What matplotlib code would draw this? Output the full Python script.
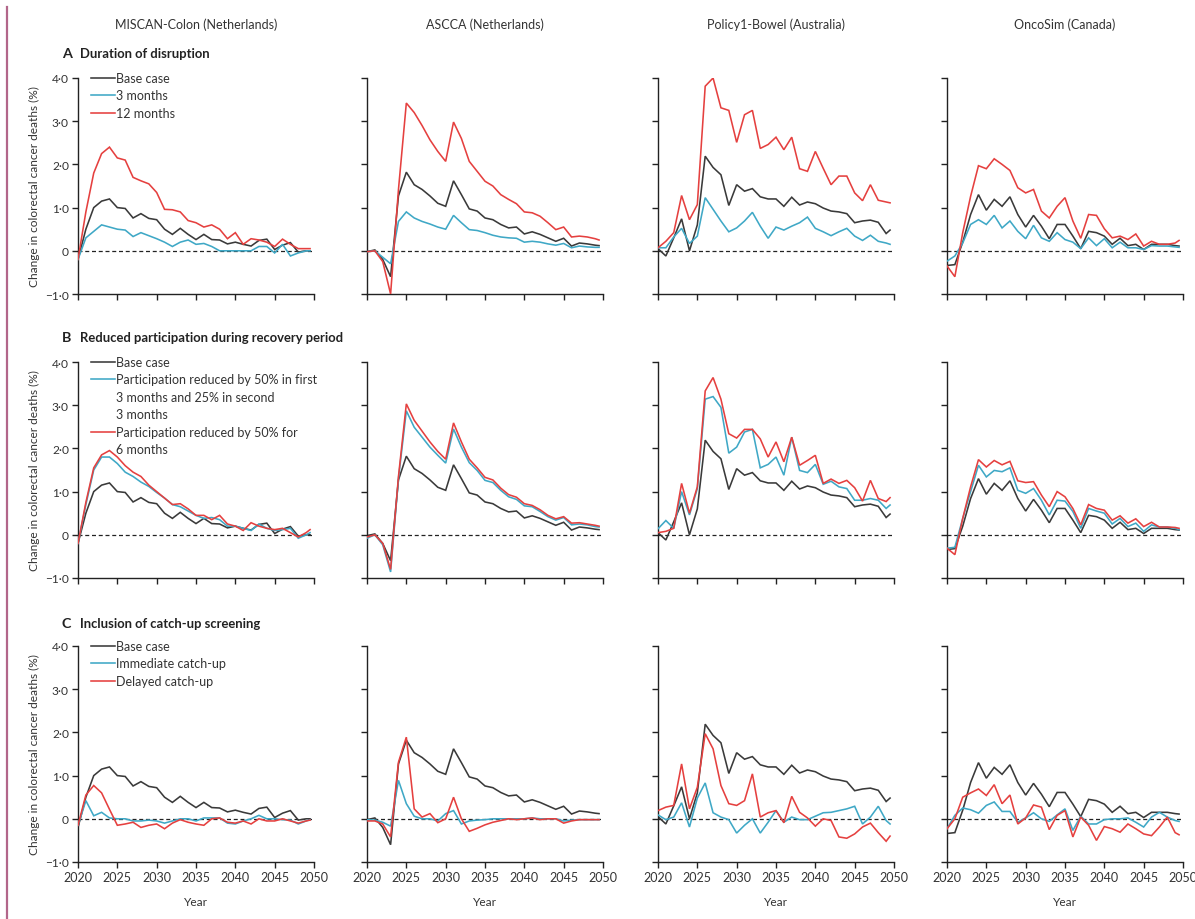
import matplotlib
matplotlib.use("Agg")
import matplotlib.pyplot as plt
from matplotlib.lines import Line2D

# ---------------- data ----------------
years = list(range(2020, 2050)) + [2049.5]

models = ["MISCAN-Colon (Netherlands)", "ASCCA (Netherlands)",
          "Policy1-Bowel (Australia)", "OncoSim (Canada)"]
panel_letters = ["A", "B", "C"]
panel_titles = ["Duration of disruption",
                "Reduced participation during recovery period",
                "Inclusion of catch-up screening"]
legend_labels = [
    ["Base case", "3 months", "12 months"],
    ["Base case",
     "Participation reduced by 50% in first\n3 months and 25% in second\n3 months",
     "Participation reduced by 50% for\n6 months"],
    ["Base case", "Immediate catch-up", "Delayed catch-up"],
]
ytick_values = [-1, 0, 1, 2, 3, 4]
ytick_labels = ["\u22121\u00b70", "0", "1\u00b70", "2\u00b70", "3\u00b70", "4\u00b70"]
xtick_values = [2020, 2025, 2030, 2035, 2040, 2045, 2050]
xtick_labels = ["2020", "2025", "2030", "2035", "2040", "2045", "2050"]
ylabel = "Change in colorectal cancer deaths (%)"
xlabel = "Year"

# MISCAN-Colon
miscan_base = [-0.2, 0.5, 1.0, 1.15, 1.2, 1.0, 0.98, 0.76, 0.86, 0.75, 0.72, 0.5, 0.38, 0.52, 0.38,
               0.26, 0.38, 0.26, 0.25, 0.16, 0.2, 0.15, 0.11, 0.24, 0.27, 0.03, 0.13, 0.19, -0.03, 0.0, 0.0]
miscan_3m = [-0.2, 0.3, 0.45, 0.6, 0.55, 0.5, 0.48, 0.33, 0.42, 0.35, 0.28, 0.2, 0.1, 0.2, 0.25,
             0.15, 0.17, 0.1, 0.0, 0.0, 0.0, 0.0, 0.0, 0.1, 0.1, -0.05, 0.15, -0.12, -0.05, 0.0, 0.0]
miscan_12m = [-0.2, 0.9, 1.8, 2.25, 2.4, 2.15, 2.1, 1.7, 1.62, 1.55, 1.35, 0.96, 0.95, 0.9, 0.7,
              0.65, 0.55, 0.6, 0.5, 0.28, 0.42, 0.15, 0.28, 0.25, 0.2, 0.1, 0.27, 0.15, 0.05, 0.05, 0.05]
miscan_p5025 = [-0.2, 0.7, 1.5, 1.8, 1.8, 1.65, 1.45, 1.35, 1.22, 1.12, 0.98, 0.85, 0.7, 0.65, 0.55,
                0.45, 0.38, 0.4, 0.35, 0.2, 0.2, 0.15, 0.1, 0.25, 0.15, 0.1, 0.12, 0.15, -0.08, 0.0, 0.05]
miscan_p50 = [-0.2, 0.75, 1.55, 1.85, 1.95, 1.8, 1.6, 1.45, 1.35, 1.15, 1.0, 0.85, 0.7, 0.72, 0.6,
              0.45, 0.45, 0.35, 0.45, 0.25, 0.2, 0.1, 0.28, 0.2, 0.15, 0.12, 0.15, 0.05, -0.05, 0.05, 0.12]
miscan_imm = [-0.15, 0.42, 0.07, 0.15, 0.02, 0.0, 0.0, -0.05, -0.05, -0.03, -0.05, -0.1, -0.05, 0.0, 0.0,
              -0.05, 0.02, 0.02, 0.02, -0.1, -0.12, -0.05, 0.0, 0.08, 0.0, 0.0, -0.02, -0.03, -0.12, -0.05, -0.02]
miscan_del = [-0.15, 0.55, 0.77, 0.6, 0.22, -0.15, -0.12, -0.08, -0.2, -0.15, -0.12, -0.23, -0.1, -0.02, -0.08,
              -0.12, -0.15, 0.0, 0.02, -0.08, -0.1, -0.05, -0.12, 0.0, -0.05, -0.05, 0.0, -0.05, -0.1, -0.05, -0.03]

# ASCCA
ascca_base = [-0.02, 0.02, -0.2, -0.6, 1.27, 1.82, 1.53, 1.42, 1.27, 1.1, 1.03, 1.62, 1.3, 0.97, 0.92,
              0.76, 0.72, 0.61, 0.53, 0.55, 0.39, 0.44, 0.38, 0.3, 0.22, 0.29, 0.11, 0.18, 0.16, 0.13, 0.12]
ascca_3m = [-0.02, 0.0, -0.15, -0.3, 0.68, 0.9, 0.76, 0.68, 0.62, 0.55, 0.5, 0.82, 0.65, 0.49, 0.47,
            0.42, 0.36, 0.32, 0.3, 0.29, 0.2, 0.22, 0.2, 0.16, 0.13, 0.17, 0.07, 0.11, 0.09, 0.08, 0.08]
ascca_12m = [-0.02, 0.0, -0.25, -1.0, 1.42, 3.42, 3.2, 2.9, 2.57, 2.3, 2.07, 2.98, 2.6, 2.07, 1.84,
             1.61, 1.5, 1.3, 1.19, 1.09, 0.9, 0.88, 0.8, 0.65, 0.49, 0.55, 0.32, 0.34, 0.32, 0.28, 0.25]
ascca_p5025 = [-0.08, 0.0, -0.23, -0.86, 1.3, 2.87, 2.49, 2.26, 2.03, 1.84, 1.66, 2.45, 2.03, 1.67, 1.49,
               1.26, 1.21, 1.03, 0.88, 0.82, 0.67, 0.65, 0.54, 0.42, 0.34, 0.4, 0.23, 0.25, 0.23, 0.19, 0.18]
ascca_p50 = [-0.05, 0.0, -0.2, -0.8, 1.35, 3.03, 2.65, 2.4, 2.15, 1.93, 1.75, 2.59, 2.15, 1.75, 1.55,
             1.33, 1.27, 1.08, 0.93, 0.87, 0.72, 0.68, 0.58, 0.45, 0.37, 0.42, 0.27, 0.28, 0.25, 0.22, 0.2]
ascca_imm = [-0.02, -0.03, -0.08, -0.17, 0.89, 0.35, 0.06, 0.0, 0.0, -0.05, 0.12, 0.19, -0.12, -0.05, -0.03,
             -0.02, 0.0, 0.0, 0.0, 0.0, 0.0, 0.02, 0.0, 0.0, 0.0, -0.05, -0.03, -0.02, -0.02, -0.02, -0.02]
ascca_del = [-0.05, -0.05, -0.12, -0.42, 1.31, 1.89, 0.23, 0.04, 0.12, -0.09, 0.0, 0.5, 0.0, -0.29, -0.22,
             -0.14, -0.08, -0.04, 0.0, -0.02, 0.0, 0.02, -0.02, 0.0, 0.0, -0.1, -0.05, -0.02, -0.02, -0.02, -0.02]

# Policy1-Bowel
policy_base = [0.05, -0.12, 0.3, 0.74, 0.0, 0.6, 2.19, 1.93, 1.76, 1.05, 1.53, 1.38, 1.44, 1.25, 1.2,
               1.2, 1.03, 1.24, 1.06, 1.13, 1.09, 0.99, 0.92, 0.9, 0.86, 0.65, 0.69, 0.71, 0.66, 0.4, 0.48]
policy_3m = [0.07, 0.07, 0.32, 0.52, 0.17, 0.34, 1.23, 0.96, 0.69, 0.44, 0.53, 0.69, 0.89, 0.57, 0.29,
             0.55, 0.48, 0.57, 0.65, 0.78, 0.52, 0.44, 0.35, 0.44, 0.52, 0.34, 0.24, 0.36, 0.22, 0.18, 0.15]
policy_12m = [0.07, 0.22, 0.42, 1.28, 0.72, 1.07, 3.81, 4.0, 3.31, 3.25, 2.51, 3.15, 3.25, 2.37, 2.46,
              2.63, 2.34, 2.63, 1.9, 1.84, 2.3, 1.91, 1.53, 1.73, 1.73, 1.34, 1.16, 1.53, 1.17, 1.13, 1.11]
policy_p5025 = [0.14, 0.33, 0.15, 1.0, 0.46, 1.07, 3.14, 3.2, 2.95, 1.89, 2.03, 2.38, 2.44, 1.55, 1.63,
                1.8, 1.38, 2.26, 1.49, 1.44, 1.63, 1.17, 1.24, 1.11, 1.07, 0.8, 0.8, 0.84, 0.8, 0.61, 0.69]
policy_p50 = [0.05, 0.08, 0.15, 1.19, 0.5, 1.11, 3.33, 3.64, 3.14, 2.34, 2.24, 2.44, 2.44, 2.22, 1.8,
              2.15, 1.69, 2.26, 1.61, 1.72, 1.84, 1.19, 1.29, 1.19, 1.26, 1.09, 0.78, 1.26, 0.84, 0.77, 0.86]
policy_imm = [0.09, -0.02, 0.04, 0.37, -0.19, 0.48, 0.83, 0.14, 0.04, -0.02, -0.33, -0.15, 0.0, -0.33, -0.08,
              0.19, -0.08, 0.04, -0.02, -0.02, 0.06, 0.14, 0.15, 0.19, 0.23, 0.29, -0.12, 0.04, 0.29, -0.04, -0.12]
policy_del = [0.19, 0.27, 0.31, 1.27, 0.23, 0.73, 1.97, 1.62, 0.77, 0.35, 0.31, 0.42, 1.04, 0.04, 0.14,
              0.19, -0.09, 0.52, 0.15, 0.02, -0.17, 0.0, -0.04, -0.42, -0.45, -0.35, -0.19, -0.1, -0.32, -0.52, -0.4]

# OncoSim
onco_base = [-0.34, -0.32, 0.2, 0.84, 1.3, 0.94, 1.19, 1.03, 1.25, 0.84, 0.55, 0.82, 0.57, 0.28, 0.61,
             0.61, 0.34, 0.05, 0.45, 0.42, 0.34, 0.15, 0.29, 0.12, 0.15, 0.03, 0.15, 0.15, 0.15, 0.12, 0.11]
onco_3m = [-0.24, -0.12, 0.18, 0.61, 0.72, 0.61, 0.82, 0.53, 0.69, 0.45, 0.28, 0.59, 0.3, 0.22, 0.42,
           0.26, 0.2, 0.05, 0.3, 0.12, 0.28, 0.07, 0.2, 0.07, 0.07, 0.03, 0.12, 0.11, 0.11, 0.09, 0.08]
onco_12m = [-0.35, -0.6, 0.42, 1.26, 1.97, 1.9, 2.13, 2.0, 1.86, 1.46, 1.34, 1.42, 0.92, 0.76, 1.03,
            1.23, 0.69, 0.29, 0.84, 0.82, 0.51, 0.3, 0.34, 0.26, 0.39, 0.11, 0.22, 0.15, 0.15, 0.18, 0.24]
onco_p5025 = [-0.31, -0.29, 0.38, 1.0, 1.61, 1.34, 1.49, 1.46, 1.55, 1.03, 0.96, 1.07, 0.8, 0.46, 0.8,
              0.78, 0.54, 0.15, 0.61, 0.55, 0.5, 0.25, 0.38, 0.19, 0.27, 0.08, 0.23, 0.18, 0.18, 0.15, 0.12]
onco_p50 = [-0.31, -0.46, 0.38, 1.11, 1.74, 1.57, 1.72, 1.62, 1.7, 1.25, 1.21, 1.23, 0.92, 0.65, 1.0,
            0.88, 0.61, 0.23, 0.7, 0.61, 0.57, 0.34, 0.44, 0.27, 0.37, 0.19, 0.29, 0.18, 0.18, 0.17, 0.15]
onco_imm = [-0.23, 0.08, 0.25, 0.21, 0.13, 0.31, 0.39, 0.17, 0.17, -0.08, 0.02, 0.14, 0.0, -0.06, 0.09,
            0.23, -0.27, 0.06, -0.12, -0.12, -0.02, 0.0, 0.0, 0.02, -0.08, -0.19, 0.04, 0.15, 0.04, -0.04, -0.06]
onco_del = [-0.23, 0.0, 0.5, 0.6, 0.69, 0.54, 0.79, 0.35, 0.55, -0.12, 0.02, 0.32, 0.27, -0.25, 0.08,
            0.19, -0.42, 0.04, -0.15, -0.5, -0.18, -0.23, -0.31, -0.12, -0.23, -0.35, -0.39, -0.19, 0.04, -0.32, -0.37]

panels = [
    [(miscan_base, miscan_3m, miscan_12m), (ascca_base, ascca_3m, ascca_12m),
     (policy_base, policy_3m, policy_12m), (onco_base, onco_3m, onco_12m)],
    [(miscan_base, miscan_p5025, miscan_p50), (ascca_base, ascca_p5025, ascca_p50),
     (policy_base, policy_p5025, policy_p50), (onco_base, onco_p5025, onco_p50)],
    [(miscan_base, miscan_imm, miscan_del), (ascca_base, ascca_imm, ascca_del),
     (policy_base, policy_imm, policy_del), (onco_base, onco_imm, onco_del)],
]

# ---------------- style ----------------
plt.rcParams['font.family'] = ['Lato', 'DejaVu Sans']
TXT = "#333333"
series_colors = ["#3a3a3a", "#3fa8c6", "#e5403f"]
FS = 8.3

W, H = 1195, 920
fig = plt.figure(figsize=(W / 100, H / 100), dpi=100)

col_left = [78, 367, 658, 947]
row_top = [79, 363, 647]
ax_w, ax_h = 236, 216

# left pink rule
fig.add_artist(Line2D([7 / W, 7 / W], [0, 1 - 8 / H], color="#b2668a", lw=1.6))

for r in range(3):
    for c in range(4):
        ax = fig.add_axes([col_left[c] / W, 1 - (row_top[r] + ax_h) / H, ax_w / W, ax_h / H])
        ax.set_xlim(2020, 2050)
        ax.set_ylim(-1, 4)
        for s in ("top", "right"):
            ax.spines[s].set_visible(False)
        for s in ("left", "bottom"):
            ax.spines[s].set_linewidth(1.0)
            ax.spines[s].set_color("#222222")
        ax.set_yticks(ytick_values)
        ax.set_xticks(xtick_values)
        ax.tick_params(direction="out", length=4.5, width=1.0, color="#222222",
                       labelsize=FS + 0.3, labelcolor=TXT, pad=2)
        if c == 0:
            ax.set_yticklabels(ytick_labels)
            ax.set_ylabel(ylabel, fontsize=FS + 0.3, color=TXT, labelpad=4)
        else:
            ax.set_yticklabels([])
        if r == 2:
            ax.set_xticklabels(xtick_labels, fontsize=FS + 0.7)
            ax.set_xlabel(xlabel, fontsize=FS + 0.3, color=TXT, labelpad=9)
        else:
            ax.set_xticklabels([])
        ax.axhline(0, color="#222222", lw=0.9, dashes=(3.2, 2.2), zorder=1)
        for k, ser in enumerate(panels[r][c]):
            ax.plot(years, ser, color=series_colors[k], lw=1.15, zorder=2 + k,
                    solid_joinstyle="miter")

        if c == 0:
            # manual legend, handle aligned with first line of each label
            step = 17.4 / ax_h
            y = 1.0
            for k, lab in enumerate(legend_labels[r]):
                ax.plot([0.055, 0.158], [y, y], color=series_colors[k], lw=1.15,
                        transform=ax.transAxes, clip_on=False)
                for line in lab.split("\n"):
                    ax.text(0.162, y, line, transform=ax.transAxes, fontsize=FS + 0.7,
                            color=TXT, va="center", ha="left")
                    y -= step

# column titles
for c in range(4):
    fig.text((col_left[c] + ax_w / 2) / W, 1 - 25 / H, models[c], fontsize=FS + 0.7,
             color=TXT, ha="center", va="center")

# panel titles
title_y = [54, 338, 624]
for r in range(3):
    fig.text(62 / W, 1 - title_y[r] / H, panel_letters[r], fontsize=FS + 2.0,
             fontweight="bold", color="#222222", ha="left", va="center")
    fig.text(80 / W, 1 - title_y[r] / H, panel_titles[r], fontsize=FS + 1.1,
             fontweight="bold", color="#222222", ha="left", va="center")

fig.savefig("out.png", dpi=100, facecolor="white")
